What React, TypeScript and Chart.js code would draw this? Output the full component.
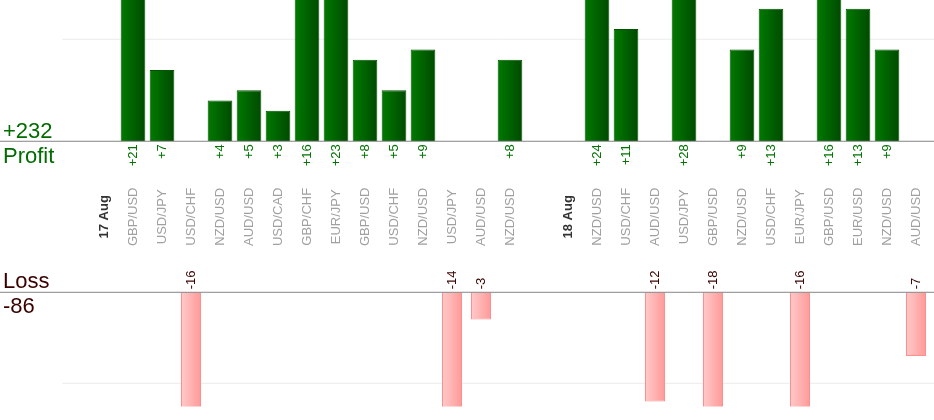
import React, { useEffect, useRef } from "react";
import { Chart, registerables, ChartOptions, Plugin } from "chart.js";

Chart.register(...registerables);

const labels = [
  "", "17 Aug", "GBP/USD", "USD/JPY", "USD/CHF", "NZD/USD", "AUD/USD", "USD/CAD",
  "GBP/CHF", "EUR/JPY", "GBP/USD", "USD/CHF", "NZD/USD", "USD/JPY", "AUD/USD",
  "NZD/USD", "", "18 Aug", "NZD/USD", "USD/CHF", "AUD/USD", "USD/JPY", "GBP/USD",
  "NZD/USD", "USD/CHF", "EUR/JPY", "GBP/USD", "EUR/USD", "NZD/USD", "AUD/USD",
];

const profit: (number | null)[] = [
  null, null, 21, 7, null, 4, 5, 3, 16, 23, 8, 5, 9, null, null,
  8, null, null, 24, 11, null, 28, null, 9, 13, null, 16, 13, 9, null,
];

const loss: (number | null)[] = [
  null, null, null, null, -16, null, null, null, null, null, null, null, null, -14, -3,
  null, null, null, null, null, -12, null, -18, null, null, -16, null, null, null, -7,
];

const profitGrid = [10];
const lossGrid = [-10];

const FONT = "'Liberation Sans', Arial, sans-serif";
const GREEN = "#006c00";
const MAROON = "#3a0000";

const totalProfit = profit.reduce<number>((s, v) => s + (v ?? 0), 0);
const totalLoss = loss.reduce<number>((s, v) => s + (v ?? 0), 0);

// horizontal gradient across each bar, built from the x scale
const barGradient = (from: string, to: string, pct: number) => (c: any) => {
  const chart = c.chart;
  const x = chart.scales?.x;
  if (!chart.chartArea || !x) return to;
  const cx = x.getPixelForValue(c.dataIndex);
  const half = (x.width / labels.length) * pct / 2;
  const g = chart.ctx.createLinearGradient(cx - half, 0, cx + half, 0);
  g.addColorStop(0, from);
  g.addColorStop(1, to);
  return g;
};

const decor: Plugin<"bar"> = {
  id: "pnlDecor",
  beforeDatasetsDraw(chart) {
    const { ctx, chartArea, scales } = chart;
    ctx.save();
    ctx.strokeStyle = "#ebebeb";
    ctx.lineWidth = 1;
    const lines = [
      ...profitGrid.map((v) => scales.yP.getPixelForValue(v)),
      ...lossGrid.map((v) => scales.yL.getPixelForValue(v)),
    ];
    lines.forEach((y) => {
      ctx.beginPath();
      ctx.moveTo(chartArea.left + 2, y);
      ctx.lineTo(chart.width, y);
      ctx.stroke();
    });
    ctx.restore();
  },
  afterDatasetsDraw(chart) {
    const { ctx, scales } = chart;
    const x = scales.x;
    const p0 = scales.yP.getPixelForValue(0);
    const l0 = scales.yL.getPixelForValue(0);

    ctx.save();
    ctx.strokeStyle = "#858585";
    ctx.lineWidth = 1;
    [p0, l0].forEach((y) => {
      ctx.beginPath();
      ctx.moveTo(0, y);
      ctx.lineTo(chart.width, y);
      ctx.stroke();
    });

    const vtext = (t: string, px: number, py: number, align: CanvasTextAlign) => {
      ctx.save();
      ctx.translate(px, py);
      ctx.rotate(-Math.PI / 2);
      ctx.textAlign = align;
      ctx.textBaseline = "middle";
      ctx.fillText(t, 0, 0);
      ctx.restore();
    };

    const mid = (p0 + l0) / 2;
    labels.forEach((lab, i) => {
      const px = x.getPixelForValue(i);
      const p = profit[i];
      const l = loss[i];
      if (p != null) {
        ctx.font = `13px ${FONT}`;
        ctx.fillStyle = "#007400";
        vtext(`+${p}`, px, p0 + 3, "right");
      }
      if (l != null) {
        ctx.font = `13px ${FONT}`;
        ctx.fillStyle = MAROON;
        vtext(`${l}`, px, l0 - 3, "left");
      }
      if (lab) {
        const isDate = /Aug/.test(lab);
        ctx.font = isDate ? `bold 13px ${FONT}` : `13px ${FONT}`;
        ctx.fillStyle = isDate ? "#333333" : "#a0a0a0";
        vtext(lab, px, mid, "center");
      }
    });

    ctx.font = `22px ${FONT}`;
    ctx.textAlign = "left";
    ctx.textBaseline = "alphabetic";
    ctx.fillStyle = GREEN;
    ctx.fillText(`+${totalProfit}`, 3, p0 - 3);
    ctx.fillText("Profit", 3, p0 + 21.5);
    ctx.fillStyle = MAROON;
    ctx.fillText("Loss", 3, l0 - 4);
    ctx.fillText(`${totalLoss}`, 3, l0 + 21);
    ctx.restore();
  },
};

const App: React.FC = () => {
  const canvasRef = useRef<HTMLCanvasElement | null>(null);

  useEffect(() => {
    document.body.style.margin = "0";
    if (!canvasRef.current) return;

    const chart = new Chart(canvasRef.current, {
      type: "bar",
      data: {
        labels,
        datasets: [
          {
            label: "Profit",
            data: profit,
            yAxisID: "yP",
            grouped: false,
            barPercentage: 0.85,
            categoryPercentage: 1,
            backgroundColor: barGradient("#007a00", "#004a00", 0.85),
            borderColor: "#005400",
            borderWidth: 1,
          },
          {
            label: "Loss",
            data: loss,
            yAxisID: "yL",
            grouped: false,
            barPercentage: 0.69,
            categoryPercentage: 1,
            backgroundColor: barGradient("#ffcaca", "#ff9999", 0.69),
            borderColor: "#ff8f8f",
            borderWidth: 1,
          },
        ],
      },
      options: {
        responsive: true,
        maintainAspectRatio: false,
        animation: false,
        events: [],
        layout: { padding: { left: 60.5, right: 3.5, top: 0, bottom: 13.5 } },
        plugins: {
          legend: { display: false },
          tooltip: { enabled: false },
        },
        scales: {
          x: { type: "category", display: false, offset: true },
          yP: { type: "linear", display: false, min: -26, max: 13.85 },
          yL: { type: "linear", display: false, min: -12.55, max: 32.12 },
        },
      } as ChartOptions<"bar">,
      plugins: [decor],
    });

    return () => {
      chart.destroy();
    };
  }, []);

  return (
    <div style={{ position: "relative", width: 934, height: 420 }}>
      <canvas ref={canvasRef}></canvas>
    </div>
  );
};

export default App;
